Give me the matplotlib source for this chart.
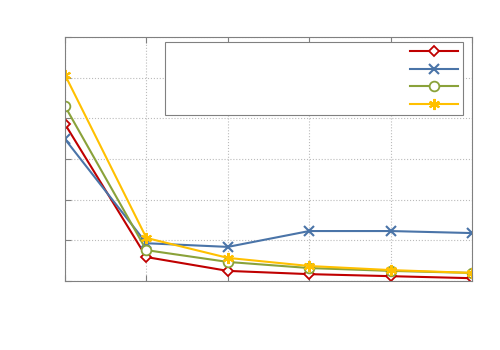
import matplotlib
matplotlib.use("Agg")
import matplotlib.pyplot as plt

x = [0, 1, 2, 3, 4, 5]
red = [3.86, 0.59, 0.25, 0.17, 0.12, 0.07]
blue = [3.49, 0.93, 0.84, 1.23, 1.23, 1.18]
green = [4.30, 0.76, 0.47, 0.32, 0.25, 0.20]
yellow = [5.07, 1.06, 0.57, 0.37, 0.27, 0.20]

fig = plt.figure(figsize=(5, 3.5), dpi=100)
ax = fig.add_axes([0.13, 0.197, 0.814, 0.697])

blank = " " * 66
ax.plot(x, red, color="#C00000", lw=1.5, marker="D", ms=5.5, mfc="white", mew=1.3, label=blank)
ax.plot(x, blue, color="#4A74A8", lw=1.5, marker="x", ms=7, mew=1.5, label=blank)
ax.plot(x, green, color="#8AA23A", lw=1.5, marker="o", ms=7, mfc="white", mew=1.3, label=blank)
ax.plot(x, yellow, color="#FFC000", lw=1.5, marker=(6, 2, 0), ms=8, mew=1.5, label=blank)

ax.set_xlim(0, 5)
ax.set_ylim(0, 6)
ax.set_xticks(x)
ax.set_yticks(range(7))
ax.tick_params(direction="in", top=True, right=False, labelbottom=False, labelleft=False,
               color="#808080", length=4)
ax.grid(True, color="#BBBBBB", ls=":", lw=0.8)
for s in ax.spines.values():
    s.set_color("#808080")

leg = ax.legend(loc="upper right", bbox_to_anchor=(0.978, 0.98), borderaxespad=0,
                markerfirst=False, handlelength=4.3, labelspacing=0.69, borderpad=0.45,
                fancybox=False, framealpha=1, edgecolor="#808080", fontsize=8)
leg.get_frame().set_linewidth(0.8)

fig.savefig("out.png", dpi=100)
